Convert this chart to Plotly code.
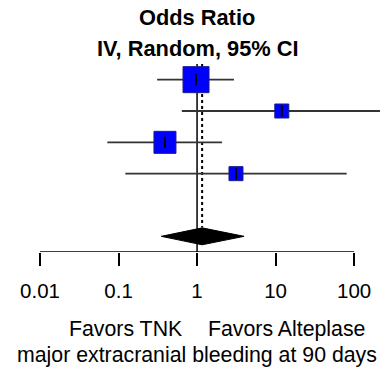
import numpy as np
import plotly.graph_objects as go

# ---- data ----
studies = ["Study 1", "Study 2", "Study 3", "Study 4"]
or_est = [0.97, 12.0, 0.39, 3.13]
ci_low = [0.31, 0.64, 0.072, 0.122]
ci_high = [2.95, 300.0, 2.08, 80.5]
box_px = [26, 14, 22, 14]
rows = [1, 2, 3, 4]

pooled_est = 1.16
pooled_low = 0.35
pooled_high = 3.97
pooled_row = 6

tick_vals = [0.01, 0.1, 1, 10, 100]
tick_text = ["0.01", "0.1", "1", "10", "100"]

FONT = "Liberation Sans, Arial, sans-serif"
FS = 21.3
fig = go.Figure()

# null line (solid) and pooled estimate line (dotted)
fig.add_trace(go.Scatter(x=[1, 1], y=[0.5, 6.5], mode="lines",
                         line=dict(color="black", width=1.5),
                         hoverinfo="skip", showlegend=False, cliponaxis=False))
fig.add_trace(go.Scatter(x=[pooled_est, pooled_est], y=[0.5, pooled_row - 0.29], mode="lines",
                         line=dict(color="black", width=2, dash="dot"),
                         hoverinfo="skip", showlegend=False))

# CI lines
for r, lo, hi in zip(rows, ci_low, ci_high):
    fig.add_trace(go.Scatter(x=[lo, hi], y=[r, r], mode="lines",
                             line=dict(color="#333333", width=1.8),
                             hoverinfo="skip", showlegend=False))

# boxes
fig.add_trace(go.Scatter(x=or_est, y=rows, mode="markers",
                         marker=dict(symbol="square", size=box_px, color="#0000FF", opacity=1,
                                     line=dict(color="#1a1a8c", width=1)),
                         showlegend=False))
# point marks
fig.add_trace(go.Scatter(x=or_est, y=rows, mode="markers",
                         marker=dict(symbol="line-ns", size=8, opacity=1,
                                     line=dict(color="black", width=2)),
                         showlegend=False))

# pooled diamond
fig.add_trace(go.Scatter(x=[pooled_low, pooled_est, pooled_high, pooled_est, pooled_low],
                         y=[pooled_row, pooled_row - 0.27, pooled_row, pooled_row + 0.27, pooled_row],
                         mode="lines", fill="toself", fillcolor="black",
                         line=dict(color="black", width=1), showlegend=False))

# axis line
fig.add_trace(go.Scatter(x=[tick_vals[0], tick_vals[-1]], y=[6.5, 6.5], mode="lines",
                         line=dict(color="black", width=1.5),
                         hoverinfo="skip", showlegend=False, cliponaxis=False))

fig.update_xaxes(type="log", range=[-2.51, 2.33], tickvals=tick_vals, ticktext=tick_text,
                 ticks="outside", ticklen=13, tickwidth=1.5, tickcolor="black",
                 showgrid=False, zeroline=False, showline=False,
                 ticklabelstandoff=7,
                 tickfont=dict(family=FONT, size=20.5, color="black"))
fig.update_yaxes(range=[6.5, 0.5], visible=False, showgrid=False, zeroline=False)

fig.add_annotation(text="<b>Odds Ratio</b>", x=0, y=1.245, xref="x", yref="paper",
                   xanchor="center", yanchor="middle", showarrow=False,
                   font=dict(family=FONT, size=21.8, color="black"))
fig.add_annotation(text="<b>IV, Random, 95% CI</b>", x=0, y=1.085, xref="x", yref="paper",
                   xanchor="center", yanchor="middle", showarrow=False,
                   font=dict(family=FONT, size=21.8, color="black"))
fig.add_annotation(text="major extracranial bleeding at 90 days", x=0, y=-0.55,
                   xref="x", yref="paper", xanchor="center", yanchor="middle", showarrow=False,
                   font=dict(family=FONT, size=FS, color="black"))
fig.add_annotation(text="Favors TNK", x=np.log10(0.69), y=-0.41, xref="x", yref="paper",
                   xanchor="right", yanchor="middle", showarrow=False,
                   font=dict(family=FONT, size=FS, color="black"))
fig.add_annotation(text="Favors Alteplase", x=np.log10(1.3), y=-0.41, xref="x", yref="paper",
                   xanchor="left", yanchor="middle", showarrow=False,
                   font=dict(family=FONT, size=FS, color="black"))

fig.update_layout(width=380, height=367, margin=dict(l=0, r=0, t=64, b=115),
                  paper_bgcolor="white", plot_bgcolor="white")

fig.write_html("out.html", config={"displayModeBar": False},
               post_script="document.body.style.margin='0';document.body.style.overflow='hidden';")
